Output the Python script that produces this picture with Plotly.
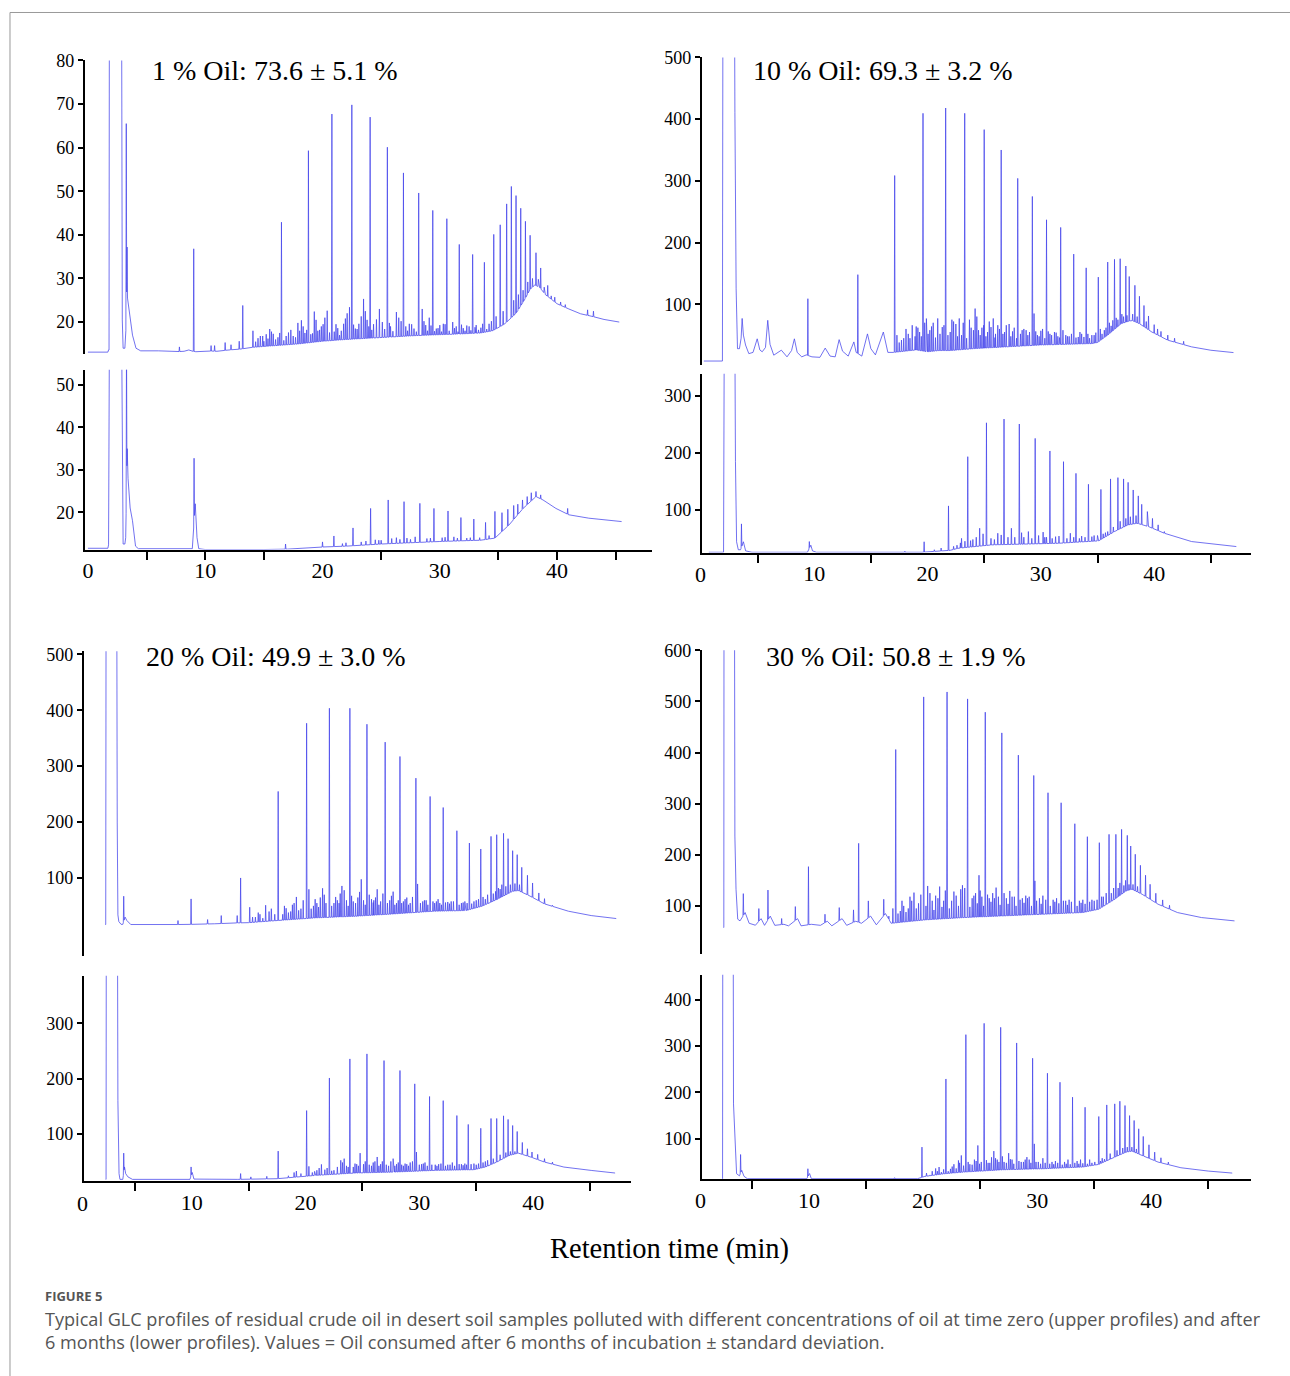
import numpy as np
import plotly.graph_objects as go

# ---------------- DATA ----------------
# Panel A: 1 % oil  (A1 = time zero, A2 = after 6 months)
A1_bl_t = [0.0, 1.70, 1.76, 1.80, 1.83, 2.87, 2.93, 3.00, 3.15, 3.22, 3.30, 3.45, 3.6, 3.8, 4.1, 4.5, 6.0, 7.5, 8.2,
           8.6, 8.95, 9.2, 10.0, 11.0, 12.0, 13.0, 14.0, 16.0, 18.0, 20.0, 22.0, 24.0, 26.0, 28.0, 30.0, 32.0, 33.5,
           34.5, 35.5, 36.5, 37.2, 37.7, 38.1, 38.5, 39.0, 40.0, 41.0, 42.0, 43.0, 44.0, 45.3]
A1_bl_y = [13.1, 13.1, 13.6, 13.6, 95, 95, 20.5, 14.0, 14.0, 16.0, 27.0, 24.0, 20.0, 17.0, 14.0, 13.4, 13.4, 13.2, 13.3,
           13.6, 13.3, 13.2, 13.4, 13.3, 13.6, 13.8, 14.2, 14.6, 15.0, 15.6, 16.0, 16.3, 16.6, 16.9, 17.1, 17.3, 17.5,
           18.0, 19.5, 22.0, 25.0, 27.5, 28.5, 28.0, 26.3, 24.2, 23.0, 21.9, 21.3, 20.6, 20.0]
A1_pk_t = [3.27, 3.34, 7.8, 9.02, 10.5, 10.8, 11.7, 12.2, 12.9, 13.2, 14.07, 14.5, 14.9, 15.2, 15.5, 15.8, 16.2, 16.5,
           16.9, 17.1, 17.5, 17.9, 18.2, 18.5, 18.8, 19.0, 19.3, 19.6, 19.9, 20.2, 20.4, 20.8, 21.0, 21.3, 21.6, 21.8,
           22.1, 22.3, 22.5, 22.8, 23.1, 23.3, 23.5, 23.8, 24.06, 24.35, 24.85, 25.1, 25.53, 25.8, 26.3, 26.5, 26.9,
           27.1, 27.4, 27.8, 28.2, 28.5, 28.8, 29.1, 29.4, 29.7, 30.0, 30.3, 30.6, 31.1, 31.4, 31.66, 32.0, 32.3, 32.8,
           33.1, 33.5, 33.8, 34.2, 34.6, 34.8, 35.15, 35.4, 35.7, 36.1, 36.3, 36.5, 36.7, 36.9, 37.1, 37.3, 37.5, 37.7,
           37.9, 38.2, 38.4, 38.6, 38.9, 39.2, 39.5, 39.8, 40.3, 40.7, 41.4, 42.6, 43.1]
A1_pk_y = [65.5, 37.2, 14.3, 36.8, 14.6, 14.6, 15.3, 14.8, 15.6, 23.8, 18.0, 16.3, 16.8, 17.2, 18.4, 17.3, 16.5, 42.9,
           16.8, 17.6, 16.8, 19.8, 20.4, 17.5, 59.3, 17.2, 22.4, 18.0, 19.0, 21.0, 22.6, 67.7, 17.8, 18.6, 18.0, 19.6,
           22.0, 23.4, 69.8, 18.5, 19.6, 21.3, 25.3, 20.5, 67.0, 19.5, 23.0, 20.0, 60.1, 19.0, 22.3, 21.0, 54.2,
           19.0, 19.6, 18.5, 49.6, 23.0, 19.3, 21.0, 45.6, 18.5, 19.3, 19.6, 43.7, 20.0, 19.0, 37.8, 18.6, 19.2, 35.5,
           19.3, 18.7, 33.7, 19.6, 40.1, 21.3, 42.3, 22.5, 47.1, 51.1, 25.0, 49.0, 26.3, 46.1, 27.3, 43.1, 29.2, 39.9,
           30.0, 35.9, 29.8, 32.4, 28.0, 28.4, 26.0, 25.7, 24.6, 24.0, 22.5, 22.8, 22.5]
A1_gr_t = [14.3, 14.7, 15.0, 15.35, 15.65, 16.0, 16.35, 16.7, 17.3, 17.7, 18.05, 18.35, 18.65, 19.15, 19.45, 19.75,
           20.05, 20.6, 21.15, 21.45, 21.95, 22.65, 22.95, 23.65, 23.95, 24.2, 24.6, 25.3, 25.7, 26.0, 26.7, 27.25,
           27.6, 28.0, 28.65, 28.95, 29.25, 29.55, 29.85, 30.15, 30.45, 30.8, 31.25, 31.55, 31.85, 32.15, 32.5, 32.65,
           33.0, 33.3, 33.65, 34.0, 34.4]
A1_gr_y = [15.5, 16.8, 15.6, 16.2, 17.8, 16.0, 17.5, 15.8, 18.2, 16.5, 18.0, 19.0, 18.2, 17.4, 20.5, 18.2,
           19.5, 17.6, 19.5, 17.0, 20.8, 19.4, 18.4, 22.5, 19.0, 18.2, 20.6, 18.4, 19.8, 17.9, 20.2, 18.0,
           19.5, 17.8, 20.2, 18.0, 19.2, 17.9, 18.6, 17.8, 19.5, 18.0, 18.6, 17.8, 19.4, 18.0, 19.0, 18.1,
           18.8, 18.2, 19.6, 18.4, 20.2]

A2_bl_t = [0.0, 1.70, 1.76, 1.83, 2.88, 2.93, 3.00, 3.15, 3.22, 3.35, 3.42, 3.6, 3.8, 4.06, 4.3, 8.9, 9.15, 9.3, 9.45,
           10.0, 15.0, 17.0, 19.5, 20.0, 22.0, 25.0, 30.0, 33.5, 34.7, 35.9, 37.1, 38.2, 38.8, 39.9, 41.0, 42.7, 45.5]
A2_bl_y = [11.5, 11.5, 12.3, 60, 60, 20.0, 12.5, 12.5, 14.0, 35.0, 28.0, 21.0, 18.0, 12.0, 11.4, 11.4, 22.0, 14.0, 11.4,
           11.2, 11.2, 11.3, 11.6, 11.8, 12.0, 12.5, 13.1, 13.4, 13.9, 17.0, 20.9, 23.7, 22.9, 20.9, 19.4, 18.6, 17.8]
A2_pk_t = [3.29, 9.05, 16.85, 20.0, 20.97, 21.7, 22.0, 22.6, 23.3, 24.1, 24.5, 25.0, 25.6, 26.3, 26.6, 26.95, 27.5,
           28.3, 28.9, 29.5, 30.2, 30.7, 31.2, 31.8, 32.3, 32.9, 33.9, 34.7, 35.3, 35.8, 36.3, 36.65, 37.05, 37.45,
           37.8, 38.2, 38.6, 39.3, 40.9]
A2_pk_y = [60, 32.75, 12.5, 13.0, 14.4, 12.6, 12.8, 16.3, 13.0, 20.9, 13.5, 13.4, 22.9, 14.0, 13.6, 22.5, 13.6,
           22.1, 13.8, 20.9, 14.0, 20.3, 14.2, 18.75, 13.9, 18.4, 17.6, 20.2, 19.9, 20.7, 21.6, 21.9, 22.9, 23.7,
           24.6, 24.9, 24.1, 22.1, 20.9]
A2_gr_t = [23.7, 24.8, 25.9, 27.2, 27.9, 29.2, 30.45, 31.5, 32.6, 33.4, 34.2]
A2_gr_y = [13.2, 13.4, 13.8, 13.9, 14.2, 13.9, 14.1, 13.9, 14.0, 14.0, 14.5]

# Panel B: 10 % oil
B1_bl_t = [0.26, 1.90, 1.95, 2.95, 3.0, 3.11, 3.23, 3.40, 3.55, 3.64, 3.75, 3.94, 4.23, 4.6, 4.97, 5.2, 5.41, 5.7, 5.9,
           6.1, 6.43, 6.8, 7.1, 7.6, 8.0, 8.25, 8.5, 8.9, 9.3, 9.8, 10.5, 10.97, 11.4, 11.85, 12.2, 12.5, 13.0, 13.5,
           13.7, 14.2, 14.7, 15.0, 15.4, 16.1, 16.5, 17.0, 18.0, 19.0, 20.0, 21.0, 22.0, 22.7, 24.0, 26.0, 28.0, 30.0,
           32.0, 34.5, 35.0, 35.9, 37.1, 38.0, 38.7, 39.8, 41.2, 43.3, 45.0, 47.0]
B1_bl_y = [8, 8, 700, 700, 411, 125, 28, 28, 45, 77, 50, 34, 20, 22, 44, 26, 23, 30, 74,
           35, 17.5, 22, 25.6, 14.8, 25, 44, 22, 14.8, 18, 14.8, 14, 29, 16, 14.8, 42.7, 24, 16, 39,
           22, 16, 52, 28, 18, 55, 22, 22, 24, 26, 23, 25, 25, 26, 28, 30, 32, 34,
           35, 36.3, 38, 50, 68.6, 74, 68.6, 55, 41.8, 31, 25.5, 21.7]
B1_pk_t = [9.44, 13.85, 17.1, 17.5, 17.9, 18.3, 18.65, 18.9, 19.0, 19.3, 19.6, 19.9, 20.2, 20.5, 20.9, 21.1, 21.3, 21.6,
           22.0, 22.3, 22.5, 22.8, 23.0, 23.28, 23.7, 24.2, 24.5, 24.8, 25.0, 25.3, 25.6, 25.8, 26.0, 26.2, 26.5, 26.8,
           27.2, 27.5, 27.96, 28.2, 28.5, 28.7, 29.0, 29.25, 29.4, 29.7, 30.0, 30.5, 30.8, 31.2, 31.5, 31.75, 32.2,
           32.5, 32.9, 33.3, 33.6, 34.0, 34.3, 34.7, 35.07, 35.4, 35.6, 35.9, 36.2, 36.5, 36.8, 37.0, 37.3, 37.5, 37.6,
           37.8, 38.1, 38.3, 38.5, 38.7, 39.1, 39.3, 39.5, 40.0, 40.3, 40.6, 41.2, 41.8, 42.6]
B1_pk_y = [109, 148, 308.6, 38, 45, 52, 66, 48, 64, 55, 409.4, 76.8, 58, 70, 77, 52, 63, 418,
           55, 72, 68, 77, 50, 409.4, 75, 93, 58, 62, 383, 55, 63, 77, 52, 66, 350, 55,
           68, 56, 304, 52, 60, 58, 55, 274.7, 85, 50, 57, 236.9, 52, 55, 48, 224.5, 50,
           48, 181.3, 47, 52, 159, 45, 50, 144, 52, 58, 168.4, 65, 172.8, 75, 173.8, 80, 162, 82,
           145, 84, 130.7, 80, 113, 98, 72, 81, 67, 60, 56, 50, 45, 40]
B1_gr_t = [17.3, 17.7, 18.1, 18.45, 19.15, 19.45, 19.75, 20.05, 20.35, 20.7, 21.45, 21.8, 22.15, 22.65, 23.15, 23.45,
           23.85, 24.05, 24.35, 24.65, 24.95, 25.15, 25.45, 25.95, 26.35, 26.65, 26.95, 27.35, 27.65, 27.85, 28.35,
           28.85, 29.55, 29.85, 30.15, 30.35, 30.65, 30.95, 31.35, 31.65, 31.95, 32.35, 32.7, 33.1, 33.45, 33.8,
           34.15, 34.5, 34.85, 35.25, 35.75, 36.05, 36.35, 36.65, 37.15]
B1_gr_y = [50, 42, 60, 45, 62, 48, 70, 52, 64, 46, 66, 50, 75, 48, 70, 45,
           62, 58, 80, 50, 66, 48, 72, 46, 60, 52, 66, 48, 62, 45, 58,
           50, 56, 48, 60, 45, 56, 50, 54, 46, 58, 48, 52, 46, 55, 47,
           52, 50, 54, 60, 62, 70, 74, 78, 84]

B2_bl_t = [0.7, 2.0, 2.06, 3.0, 3.05, 3.10, 3.15, 3.3, 3.5, 3.75, 3.95, 4.5, 9.4, 9.7, 9.85, 10.2, 19.5, 20.5, 22.0,
           22.7, 25.7, 31.6, 35.1, 36.5, 37.7, 38.5, 39.5, 40.9, 43.3, 47.25]
B2_bl_y = [25.6, 25.6, 400, 400, 184.7, 126, 44, 30, 30, 44, 28, 25.6, 25.6, 38, 28, 25.6, 25.6, 27, 29,
           32.6, 38.6, 41.4, 45.6, 62, 73.7, 76.5, 70.7, 59, 44.4, 35.6]
B2_pk_t = [3.58, 9.57, 18.0, 19.7, 20.6, 21.2, 21.85, 22.3, 22.6, 23.0, 23.3, 23.55, 24.0, 24.6, 25.2, 25.6, 26.2,
           26.75, 27.1, 27.4, 28.1, 28.5, 28.9, 29.5, 30.2, 30.5, 30.8, 31.3, 32.0, 32.6, 33.1, 33.6, 34.2, 34.7,
           35.3, 35.7, 36.15, 36.4, 36.8, 37.0, 37.3, 37.5, 37.7, 37.9, 38.15, 38.4, 38.6, 38.9, 39.4, 39.85,
           40.35, 40.9, 41.5]
B2_pk_y = [75.4, 44.4, 27.5, 44, 30, 33, 107, 36, 38, 50, 45, 193.5, 48, 67.8, 253, 50, 59,
           259.6, 52, 67.8, 250.9, 52, 62, 225.6, 61, 52, 203.5, 53, 184.7, 59, 164.2, 54, 145, 55,
           136, 60, 154.4, 70, 156.7, 80, 154.4, 85, 148.4, 88, 135, 90, 124.6, 109.8, 97, 85,
           73.7, 62, 55]
B2_gr_t = [22.9, 23.8, 24.3, 24.9, 25.9, 26.5, 27.7, 28.3, 29.2, 29.8, 30.35, 31.0, 31.6, 32.3, 32.9, 33.4, 33.9,
           34.5, 35.0, 35.5, 35.9]
B2_gr_y = [42, 46, 52, 58, 48, 56, 52, 60, 50, 55, 52, 50, 54, 50, 52, 50, 52, 53, 55, 58, 62]

# Panel C: 20 % oil
C1_bl_t = [2.40, 2.45, 2.48, 3.42, 3.46, 3.52, 3.6, 3.8, 3.95, 4.15, 4.3, 4.65, 4.8, 8.0, 10.0, 12.0, 14.0, 15.0,
           17.5, 20.9, 24.4, 27.8, 31.3, 34.1, 35.5, 36.8, 38.2, 38.7, 39.6, 41.0, 43.1, 45.1, 47.3]
C1_bl_y = [16.7, 16.7, 600, 600, 200, 34, 22, 17, 17, 30, 24, 16.7, 16.7, 16.5, 17, 18, 19.6, 20,
           23.8, 28.6, 31.5, 35.7, 40.5, 41.7, 49.4, 61.3, 76.2, 77.4, 69, 53.6, 40.5, 32.7, 27.4]
C1_pk_t = [4.03, 8.8, 9.95, 11.4, 12.6, 14.0, 14.3, 15.1, 15.6, 16.0, 16.5, 16.8, 17.6, 18.0, 18.3, 18.7, 19.0, 19.2,
           19.6, 20.1, 20.3, 20.7, 21.0, 21.3, 21.5, 21.8, 22.1, 22.5, 22.8, 23.2, 23.4, 23.6, 23.9, 24.2, 24.6,
           24.9, 25.1, 25.4, 25.8, 26.0, 26.3, 26.6, 27.0, 27.4, 27.7, 28.0, 28.3, 28.6, 28.9, 29.2, 29.7, 29.85,
           30.3, 30.6, 30.95, 31.5, 31.8, 32.1, 32.5, 32.8, 33.3, 33.7, 34.0, 34.4, 34.8, 35.4, 35.8, 36.3, 36.5,
           36.8, 37.1, 37.4, 37.6, 37.8, 38.0, 38.2, 38.4, 38.6, 38.8, 39.0, 39.5, 39.95, 40.5, 41.0, 41.7, 42.4]
C1_pk_y = [67.3, 23.8, 62.5, 25.6, 32.7, 32.7, 100, 47.6, 30, 35, 51.2, 40, 254.8, 35, 45.8, 40, 55, 66,
           45, 376.8, 79.7, 50, 55, 65, 81.5, 55, 403.6, 55, 60, 85.7, 78, 60, 403.6, 58, 65,
           97.6, 60, 375, 62, 60, 79.7, 58, 343, 60, 75.5, 55, 317.3, 58, 64.9, 55, 278.6, 89.3,
           58, 60, 245.8, 58, 55, 226, 57, 58, 184.5, 55, 58, 162.5, 58, 151.8, 62, 174.4, 72,
           177.4, 80, 179.8, 85, 170.2, 88, 148.8, 90, 141.7, 88, 119, 104.8, 91, 73.2, 63, 51.2, 43.5]
C1_gr_t = [15.35, 15.85, 16.25, 17.0, 17.3, 18.15, 18.5, 18.85, 19.4, 19.8, 20.5, 20.85, 21.15, 21.65, 22.3, 22.65,
           22.95, 23.05, 23.75, 24.05, 24.4, 24.75, 25.25, 25.6, 25.95, 26.15, 26.45, 26.8, 27.2, 27.55, 27.85, 28.15,
           28.45, 28.75, 29.05, 29.4, 30.1, 30.45, 30.75, 31.2, 31.35, 31.65, 31.95, 32.3, 32.65, 33.0, 33.5, 33.85,
           34.2, 34.6, 35.0, 35.2, 35.6, 36.0, 36.7, 36.95, 37.25]
C1_gr_y = [30, 38, 28, 45, 35, 50, 38, 52, 42, 60, 45, 62, 48, 70, 50, 66,
           55, 72, 50, 68, 55, 75, 52, 70, 56, 65, 52, 72, 55, 68, 52, 60,
           55, 62, 52, 66, 55, 60, 52, 58, 55, 62, 52, 56, 54, 58, 52, 56,
           55, 54, 60, 62, 66, 70, 76, 82, 88]

C2_bl_t = [2.45, 2.48, 2.50, 3.48, 3.52, 3.62, 3.70, 3.95, 4.1, 4.2, 4.4, 4.8, 9.85, 10.05, 10.2, 14.0, 17.5, 20.9,
           24.4, 27.8, 31.3, 34.8, 35.8, 36.8, 37.9, 38.7, 39.8, 41.0, 42.7, 45.1, 47.2]
C2_bl_y = [17.5, 17.5, 500, 500, 160, 28, 17.5, 17.5, 40, 28, 22, 17.5, 17.5, 30, 18, 17.5, 18.7, 24.7,
           29, 30.7, 33.7, 35, 39.8, 48.8, 60.8, 65, 57.8, 48.8, 39.8, 33.7, 29]
C2_pk_t = [4.03, 9.95, 14.3, 15.2, 16.6, 17.6, 18.5, 19.0, 19.2, 19.6, 20.1, 20.3, 20.8, 21.2, 21.4, 21.7, 22.1, 22.5,
           22.8, 23.1, 23.4, 23.6, 23.9, 24.2, 24.5, 24.8, 25.1, 25.4, 25.8, 26.1, 26.3, 26.6, 26.9, 27.3, 27.7, 28.0,
           28.3, 28.6, 28.9, 29.2, 29.6, 29.75, 30.2, 30.5, 30.9, 31.4, 31.7, 32.1, 32.5, 32.9, 33.3, 33.7, 34.0, 34.3,
           34.8, 35.4, 35.8, 36.3, 36.5, 36.8, 37.1, 37.4, 37.6, 37.8, 38.0, 38.2, 38.4, 38.6, 39.05, 39.5, 39.9, 40.4,
           41.0, 41.7]
C2_pk_y = [65, 40, 28, 22, 23, 68.7, 24, 30, 32.5, 28, 142, 41, 32, 38, 44.6, 35, 201, 34,
           40, 52, 55, 42, 235.5, 40, 45, 65, 45, 244.6, 42, 50, 58, 45, 232.5, 42, 55, 45,
           214.5, 42, 45, 48, 190.4, 67, 45, 48, 167.5, 44, 45, 160, 44, 48, 133, 45, 46, 116.9,
           46, 110, 50, 127.7, 55, 127.7, 62, 132.5, 66, 126, 68, 115, 68, 104.2, 84.3, 72.9, 67, 62.7,
           55, 48.8]
C2_gr_t = [20.6, 21.0, 21.9, 22.3, 23.25, 23.75, 24.35, 24.65, 25.25, 25.6, 25.95, 26.45, 26.75, 27.1, 27.5, 27.85,
           28.15, 28.45, 28.75, 29.05, 29.4, 30.0, 30.35, 30.7, 31.1, 31.55, 31.9, 32.3, 32.7, 33.1, 33.5, 33.85,
           34.15, 34.55, 35.0, 35.2, 35.6, 36.0]
C2_gr_y = [30, 34, 38, 33, 48, 40, 46, 42, 50, 44, 48, 42, 50, 44, 50, 42,
           48, 44, 46, 42, 50, 44, 46, 42, 44, 42, 46, 42, 44, 42, 45, 43,
           44, 45, 44, 46, 48, 52]

# Panel D: 30 % oil
D1_bl_t = [2.50, 2.53, 2.55, 3.46, 3.50, 3.60, 3.75, 3.95, 4.4, 4.75, 5.3, 5.8, 6.1, 6.6, 7.0, 7.8, 8.2, 9.0, 9.3, 10.2,
           11.0, 11.6, 12.0, 12.9, 13.3, 14.1, 14.6, 15.4, 15.9, 16.7, 17.2, 20.2, 23.6, 27.1, 30.5, 34.0, 35.4, 36.8,
           37.8, 38.3, 39.2, 40.6, 42.3, 44.4, 47.3]
D1_bl_y = [57.7, 57.7, 800, 800, 236.7, 132.6, 74, 70.7, 87, 66, 62.2, 75, 62, 80, 62, 64, 61, 75, 61, 64,
           62, 70, 61, 75, 62, 70, 66, 80, 63, 85, 66, 72.7, 77.2, 80.5, 83.7, 87, 93.5, 113,
           129.3, 132.6, 122.8, 103.3, 87, 77.2, 70.7]
D1_pk_t = [4.24, 5.6, 6.4, 7.6, 8.8, 9.95, 11.4, 12.65, 13.9, 14.35, 15.2, 16.55, 17.6, 18.0, 18.3, 18.7, 19.0, 19.2,
           19.6, 20.05, 20.4, 20.8, 21.1, 21.45, 21.8, 22.1, 22.5, 22.9, 23.3, 23.45, 23.9, 24.3, 24.6, 24.9, 25.15,
           25.45, 25.8, 26.1, 26.4, 26.6, 26.9, 27.3, 27.6, 28.0, 28.35, 28.7, 29.0, 29.3, 29.7, 29.8, 30.2, 30.5,
           30.95, 31.4, 31.7, 32.1, 32.5, 32.8, 33.3, 33.7, 34.0, 34.4, 34.8, 35.45, 35.8, 36.3, 36.5, 36.9, 37.1,
           37.4, 37.6, 37.9, 38.05, 38.2, 38.4, 38.6, 38.8, 39.05, 39.5, 39.9, 40.4, 41.0, 41.6]
D1_pk_y = [124, 94.8, 131, 75.3, 98.7, 176.8, 83.7, 96.7, 92.2, 222.4, 109.8, 113, 406, 90, 100, 95, 110, 126,
           105, 508.9, 139, 110, 120, 137.8, 110, 518.6, 110, 120, 132.6, 140.4, 505, 115, 125, 160, 118,
           479, 115, 125, 135.8, 118, 438.5, 115, 129.3, 118, 395, 115, 120, 118, 355.2, 149, 115, 120,
           321.4, 112, 115, 301.8, 110, 112, 260.8, 110, 112, 235.4, 112, 223.7, 118, 240, 125, 240, 135,
           249.7, 140, 238, 142, 217.2, 142, 201, 138, 179.4, 160, 142.3, 124.7, 111.7, 101.3]
D1_gr_t = [17.0, 17.35, 17.8, 18.15, 18.5, 18.85, 19.4, 19.8, 20.25, 20.6, 20.95, 21.3, 21.65, 21.95, 22.3, 22.7,
           23.1, 23.65, 24.1, 24.45, 24.75, 25.0, 25.3, 25.65, 25.95, 26.25, 26.75, 27.1, 27.45, 27.8, 28.15, 28.5,
           28.85, 29.15, 29.5, 29.95, 30.35, 30.75, 31.15, 31.55, 31.9, 32.3, 32.65, 33.0, 33.5, 33.85, 34.2, 34.6,
           35.0, 35.25, 35.65, 36.05, 36.7, 37.25, 37.75]
D1_gr_y = [80, 95, 85, 110, 88, 118, 95, 122, 100, 125, 92, 115, 98, 130, 95, 128,
           100, 135, 98, 120, 105, 130, 100, 122, 108, 115, 102, 125, 104, 118, 100, 112,
           106, 115, 100, 110, 104, 112, 100, 108, 105, 110, 102, 108, 100, 106, 104, 108,
           110, 112, 118, 125, 135, 145, 150]

D2_bl_t = [2.40, 2.42, 2.44, 3.35, 3.38, 3.50, 3.65, 3.9, 4.1, 4.3, 4.6, 9.8, 10.05, 10.2, 19.5, 20.15, 21.9, 23.6,
           27.1, 30.5, 34.0, 35.4, 36.8, 37.8, 38.3, 39.2, 40.6, 42.6, 45.0, 47.1]
D2_bl_y = [13.8, 13.8, 600, 600, 175.3, 110.7, 24.6, 20, 32, 19, 13.8, 13.8, 25, 13.8, 13.8, 18.8, 24.6, 28.2,
           33.2, 35.3, 39, 44.7, 60.4, 71.2, 73.4, 64, 49.7, 37.5, 30.3, 26]
D2_pk_t = [4.0, 9.9, 17.5, 19.9, 20.3, 20.8, 21.1, 21.4, 22.0, 22.4, 22.7, 23.1, 23.35, 23.75, 24.1, 24.5, 24.8, 25.1,
           25.35, 25.7, 26.0, 26.2, 26.5, 26.8, 27.1, 27.5, 27.8, 28.2, 28.6, 29.1, 29.3, 29.6, 29.75, 30.1, 30.5,
           30.9, 31.3, 31.6, 32.0, 32.4, 32.7, 33.1, 33.5, 33.8, 34.2, 34.6, 35.4, 35.7, 36.1, 36.4, 36.8, 37.0,
           37.25, 37.5, 37.7, 37.9, 38.1, 38.3, 38.5, 38.7, 38.9, 39.3, 39.8, 40.3, 40.85, 41.5]
D2_pk_y = [66, 35.3, 16, 82, 26, 30, 36, 39, 229, 35, 45, 53.3, 64, 324.6, 45, 55, 85.6, 50,
           349, 48, 60, 73.4, 55, 340.4, 50, 69, 55, 306.7, 50, 60.4, 55, 273.7, 89, 50, 58,
           241.4, 50, 52, 222, 50, 55, 189.7, 52, 55, 168, 55, 148, 58, 173, 68, 175.3, 75,
           181, 80, 171.7, 82, 150, 82, 139.4, 78, 121.5, 105, 87, 71.2, 59, 49.7]
D2_gr_t = [20.6, 21.25, 21.6, 21.8, 22.2, 22.55, 22.9, 23.2, 23.55, 23.95, 24.3, 24.65, 24.95, 25.55, 25.85, 26.35,
           26.65, 26.95, 27.3, 27.65, 27.95, 28.4, 28.8, 28.95, 29.45, 29.9, 30.3, 30.7, 31.1, 31.45, 31.8, 32.2,
           32.55, 32.9, 33.3, 33.65, 34.0, 34.4, 34.8, 35.05, 35.55, 35.9]
D2_gr_y = [22, 30, 28, 34, 30, 40, 36, 48, 42, 50, 44, 52, 46, 54, 48, 58,
           50, 62, 48, 56, 46, 52, 50, 55, 48, 50, 46, 48, 46, 45, 48, 44,
           46, 45, 48, 46, 47, 46, 48, 50, 52, 56]

TITLES = ["1 % Oil: 73.6 \u00b1 5.1 %", "10 % Oil: 69.3 \u00b1 3.2 %",
          "20 % Oil: 49.9 \u00b1 3.0 %", "30 % Oil: 50.8 \u00b1 1.9 %"]
X_LABELS = [0, 10, 20, 30, 40]
X_TITLE = "Retention time (min)"
CAPTION_HEAD = "FIGURE 5"
CAPTION_1 = ("Typical GLC profiles of residual crude oil in desert soil samples polluted with different "
             "concentrations of oil at time zero (upper profiles) and after")
CAPTION_2 = ("6 months (lower profiles). Values = Oil consumed after 6 months of incubation "
             "\u00b1 standard deviation.")

# ---------------- BUILD ----------------
W, H = 1290, 1376
SERIF = "Liberation Serif"
LINE = "rgba(70,70,235,0.85)"


def trace_xy(bl_t, bl_y, pk_t, pk_y, gr_t, gr_y, d=0.035):
    bt = np.asarray(bl_t, float)
    by = np.asarray(bl_y, float)
    all_t = list(pk_t) + list(gr_t)
    all_y = list(pk_y) + list(gr_y)
    pkt = np.asarray(all_t, float)
    pts = []
    for t, y in zip(bl_t, bl_y):
        if np.min(np.abs(pkt - t)) > d:
            pts.append((t, y))
    for t, h in zip(all_t, all_y):
        pts.append((t - d, float(np.interp(t - d, bt, by))))
        pts.append((t, h))
        pts.append((t + d, float(np.interp(t + d, bt, by))))
    pts.sort()
    return [p[0] for p in pts], [p[1] for p in pts]


# pixel -> paper (small correction measured from an earlier render)
def fx(px):
    return (px - 2.0) / W


def fy(py):
    return 1 - ((py - 7.5) / 0.9945) / H


panels = [
    ((A1_bl_t, A1_bl_y, A1_pk_t, A1_pk_y, A1_gr_t, A1_gr_y), (85, 653), (58, 352), [-0.26, 48.09], [12.7, 80],
     [20, 30, 40, 50, 60, 70, 80], False, [], None),
    ((A2_bl_t, A2_bl_y, A2_pk_t, A2_pk_y, A2_gr_t, A2_gr_y), (85, 653), (368, 548), [-0.26, 48.09], [11.2, 53.6],
     [20, 30, 40, 50], True, [5, 10, 15, 25, 35, 40, 45], None),
    ((B1_bl_t, B1_bl_y, B1_pk_t, B1_pk_y, B1_gr_t, B1_gr_y), (703, 1253), (55, 363), [0.09, 48.55], [1.8, 500],
     [100, 200, 300, 400, 500], False, [], None),
    ((B2_bl_t, B2_bl_y, B2_pk_t, B2_pk_y, B2_gr_t, B2_gr_y), (703, 1253), (372, 551), [0.09, 48.55], [25.1, 339],
     [100, 200, 300], True, [5, 15, 25, 35, 45], (702, 573)),
    ((C1_bl_t, C1_bl_y, C1_pk_t, C1_pk_y, C1_gr_t, C1_gr_y), (84, 632), (650, 955), [0.53, 48.6], [-39.3, 505.4],
     [100, 200, 300, 400, 500], False, [], None),
    ((C2_bl_t, C2_bl_y, C2_pk_t, C2_pk_y, C2_gr_t, C2_gr_y), (84, 632), (975, 1181), [0.53, 48.6], [13.8, 386],
     [100, 200, 300], True, [5, 15, 25, 35, 45], (83, 1203)),
    ((D1_bl_t, D1_bl_y, D1_pk_t, D1_pk_y, D1_gr_t, D1_gr_y), (703, 1253), (649, 953), [0.61, 48.75], [6.25, 600],
     [100, 200, 300, 400, 500, 600], False, [], None),
    ((D2_bl_t, D2_bl_y, D2_pk_t, D2_pk_y, D2_gr_t, D2_gr_y), (703, 1253), (974, 1179), [0.61, 48.75], [12.3, 453.8],
     [100, 200, 300, 400], True, [5, 15, 25, 35, 45], (702, 1200)),
]

fig = go.Figure()
layout = {}
annotations = []
for i, (data, xd, yd, xr, yr, yt, lower, minor, zero_pos) in enumerate(panels, start=1):
    sx = "" if i == 1 else str(i)
    x, y = trace_xy(*data)
    fig.add_trace(go.Scatter(x=x, y=y, mode="lines", xaxis="x" + sx, yaxis="y" + sx,
                             line=dict(color=LINE, width=0.9), hoverinfo="skip", showlegend=False))
    xa = dict(domain=[fx(xd[0]), fx(xd[1])], range=xr, anchor="y" + sx, showgrid=False, zeroline=False,
              fixedrange=True)
    if lower:
        xa.update(showline=True, linecolor="black", linewidth=2, tickmode="array", tickvals=X_LABELS,
                  ticktext=[str(v) for v in X_LABELS], ticks="", showticklabels=True,
                  tickfont=dict(family=SERIF, size=22, color="black"), ticklabelstandoff=0,
                  minor=dict(tickmode="array", tickvals=minor, ticks="outside", ticklen=8, tickwidth=2,
                             tickcolor="black", showgrid=False))
    else:
        xa.update(showline=False, showticklabels=False, ticks="")
    ya = dict(domain=[fy(yd[1]), fy(yd[0])], range=yr, anchor="x" + sx, showgrid=False, zeroline=False,
              showline=True, linecolor="black", linewidth=2, ticks="outside", ticklen=5, tickwidth=1.5,
              tickcolor="black", tickmode="array", tickvals=yt, ticklabelstandoff=0,
              tickfont=dict(family=SERIF, size=18, color="black"), fixedrange=True)
    layout["xaxis" + sx] = xa
    layout["yaxis" + sx] = ya
    if zero_pos is not None:
        annotations.append(dict(text=str(X_LABELS[0]), x=fx(zero_pos[0]), y=fy(zero_pos[1]), xref="paper",
                                yref="paper", xanchor="center", yanchor="middle", showarrow=False,
                                font=dict(family=SERIF, size=22, color="black")))

title_pos = [(150, 68), (752, 68), (144, 655), (765, 655)]
for txt, (px, py) in zip(TITLES, title_pos):
    annotations.append(dict(text=txt, x=fx(px), y=fy(py), xref="paper", yref="paper", xanchor="left",
                            yanchor="middle", showarrow=False, font=dict(family=SERIF, size=28, color="black")))
annotations.append(dict(text=X_TITLE, x=fx(671), y=fy(1249), xref="paper", yref="paper", xanchor="center",
                        yanchor="middle", showarrow=False, font=dict(family=SERIF, size=28.5, color="black")))
annotations.append(dict(text="<b>" + CAPTION_HEAD + "</b>", x=fx(43), y=fy(1296), xref="paper", yref="paper",
                        xanchor="left", yanchor="middle", showarrow=False,
                        font=dict(family="Open Sans", size=13, color="#555555")))
annotations.append(dict(text=CAPTION_1, x=fx(43), y=fy(1319), xref="paper", yref="paper",
                        xanchor="left", yanchor="middle", showarrow=False,
                        font=dict(family="Open Sans", size=18.1, color="#555555")))
annotations.append(dict(text=CAPTION_2, x=fx(43), y=fy(1342), xref="paper", yref="paper",
                        xanchor="left", yanchor="middle", showarrow=False,
                        font=dict(family="Open Sans", size=18.1, color="#555555")))

shapes = [
    dict(type="line", xref="paper", yref="paper", x0=fx(10), x1=1, y0=fy(10), y1=fy(10),
         line=dict(color="#999999", width=1)),
    dict(type="line", xref="paper", yref="paper", x0=fx(10), x1=fx(10), y0=0, y1=fy(10),
         line=dict(color="#999999", width=1)),
]

fig.update_layout(width=W, height=H, margin=dict(l=0, r=0, t=0, b=0), plot_bgcolor="white",
                  paper_bgcolor="white", annotations=annotations, shapes=shapes, showlegend=False,
                  **layout)
fig.write_html("out.html", config={"displayModeBar": False},
               post_script="document.body.style.margin='0';document.body.style.padding='0';"
                           "document.body.style.overflow='hidden';"
                           "document.documentElement.style.overflow='hidden';")
